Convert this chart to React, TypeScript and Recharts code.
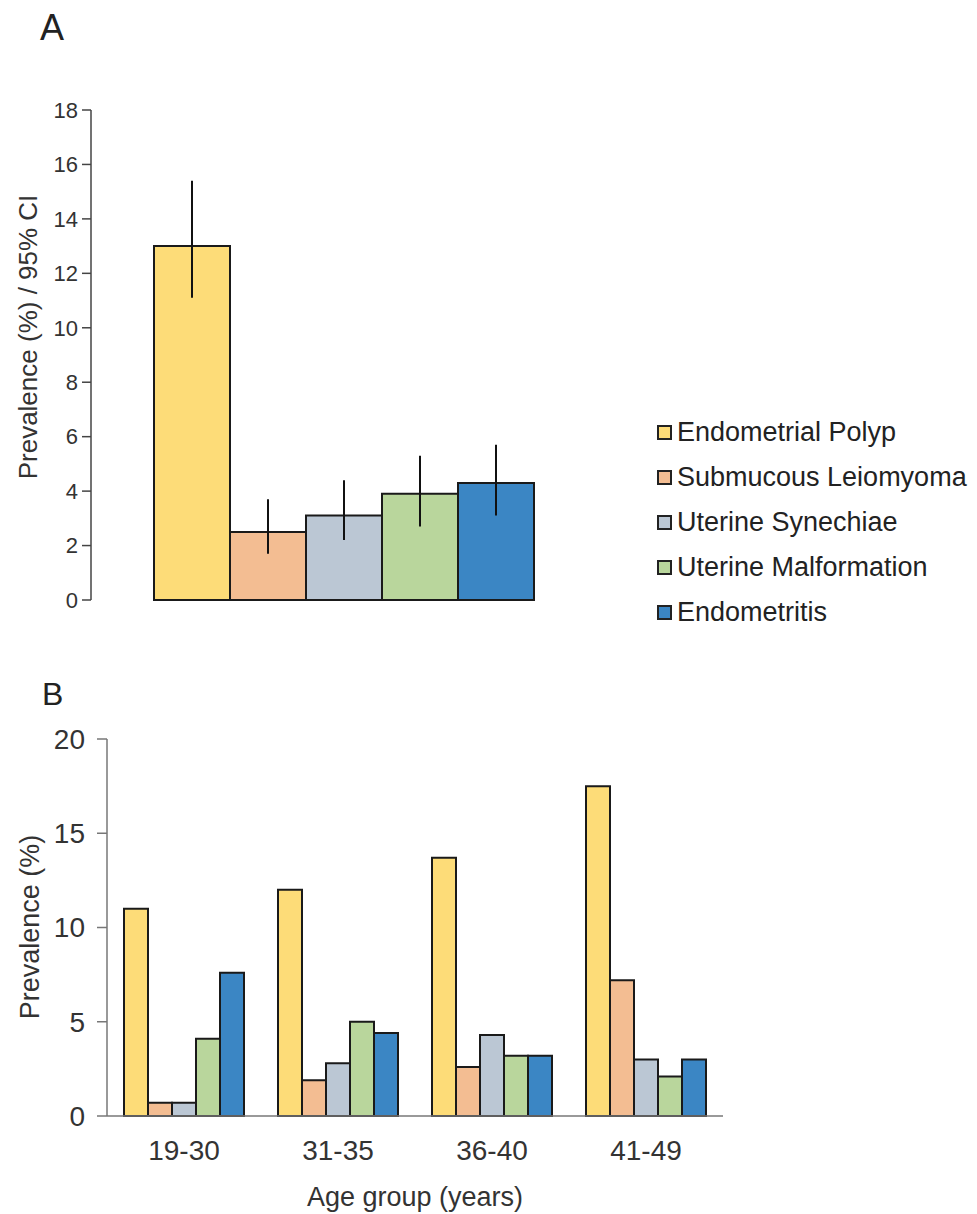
import React from 'react';
import { Bar, BarChart, ErrorBar, Legend, XAxis, YAxis } from 'recharts';

const FONT = '"Liberation Sans", Arial, Helvetica, sans-serif';

// conditions, shared by both panels
const conditions = [
  'Endometrial Polyp',
  'Submucous Leiomyoma',
  'Uterine Synechiae',
  'Uterine Malformation',
  'Endometritis',
];
const keys = ['polyp', 'myoma', 'synechiae', 'malformation', 'endometritis'];
const colors = ['#FDDC78', '#F3BD92', '#BBC7D4', '#B9D69C', '#3B86C4'];

// panel A: overall prevalence with 95% CI
const overallPrevalence = [13.0, 2.5, 3.1, 3.9, 4.3];
const ciLower = [11.1, 1.7, 2.2, 2.7, 3.1];
const ciUpper = [15.4, 3.7, 4.4, 5.3, 5.7];
const ticksA = [0, 2, 4, 6, 8, 10, 12, 14, 16, 18];

// panel B: prevalence by age group
const ageGroups = ['19-30', '31-35', '36-40', '41-49'];
const polypByAge = [11.0, 12.0, 13.7, 17.5];
const myomaByAge = [0.7, 1.9, 2.6, 7.2];
const synechiaeByAge = [0.7, 2.8, 4.3, 3.0];
const malformationByAge = [4.1, 5.0, 3.2, 2.1];
const endometritisByAge = [7.6, 4.4, 3.2, 3.0];
const ticksB = [0, 5, 10, 15, 20];

const overallRow: Record<string, any> = { name: 'all' };
keys.forEach((k, i) => {
  overallRow[k] = overallPrevalence[i];
  overallRow[k + 'Err'] = [overallPrevalence[i] - ciLower[i], ciUpper[i] - overallPrevalence[i]];
});
const dataA = [overallRow];

const byAge = [polypByAge, myomaByAge, synechiaeByAge, malformationByAge, endometritisByAge];
const dataB = ageGroups.map((age, j) => {
  const row: Record<string, any> = { age };
  keys.forEach((k, i) => {
    row[k] = byAge[i][j];
  });
  return row;
});

// axis title drawn at a fixed spot in the chart's svg
const title = (x: number, y: number, text: string, size: number, rotate = false) => () => (
  <text
    x={x}
    y={y}
    transform={rotate ? `rotate(-90 ${x} ${y})` : undefined}
    textAnchor="middle"
    dominantBaseline="central"
    fontSize={size}
    fill="#333"
    fontFamily={FONT}
  >
    {text}
  </text>
);

const renderLegend = () => (
  <div style={{ fontFamily: FONT }}>
    {conditions.map((c, i) => (
      <div key={c} style={{ display: 'flex', alignItems: 'center', height: 45 }}>
        <span
          style={{
            display: 'inline-block',
            width: 11,
            height: 11,
            border: '2px solid #222',
            background: colors[i],
            marginRight: 5,
          }}
        />
        <span style={{ fontSize: 27, color: '#222', whiteSpace: 'nowrap' }}>{c}</span>
      </div>
    ))}
  </div>
);

export default function App() {
  return (
    <div
      style={{
        position: 'absolute',
        left: 0,
        top: 0,
        width: 977,
        height: 1214,
        background: '#fff',
        fontFamily: FONT,
      }}
    >
      <div style={{ position: 'absolute', left: 40, top: 10, fontSize: 36, lineHeight: '36px', color: '#222' }}>A</div>
      <div style={{ position: 'absolute', left: 0, top: 0 }}>
        <BarChart
          width={977}
          height={640}
          data={dataA}
          margin={{ top: 110, right: 445, bottom: 40, left: 0 }}
          barGap={0}
          barCategoryGap={0}
        >
          <XAxis dataKey="name" hide padding={{ left: 63, right: 0 }} />
          <YAxis
            domain={[0, 18]}
            ticks={ticksA}
            width={91}
            tickSize={9}
            tickMargin={4}
            axisLine={{ stroke: '#444', strokeWidth: 1.5 }}
            tickLine={{ stroke: '#444', strokeWidth: 1.5 }}
            tick={{ fill: '#333', fontSize: 22 }}
            label={title(28, 337, 'Prevalence (%) / 95% CI', 26, true)}
          />
          {keys.map((k, i) => (
            <Bar
              key={k}
              dataKey={k}
              name={conditions[i]}
              fill={colors[i]}
              stroke="#1a1a1a"
              strokeWidth={2}
              isAnimationActive={false}
            >
              <ErrorBar dataKey={k + 'Err'} width={0} stroke="#111" strokeWidth={2} isAnimationActive={false} />
            </Bar>
          ))}
          <Legend
            layout="vertical"
            align="center"
            verticalAlign="middle"
            wrapperStyle={{ left: 657, top: 410, width: 320 }}
            content={renderLegend}
          />
        </BarChart>
      </div>

      <div style={{ position: 'absolute', left: 42, top: 678, fontSize: 32, lineHeight: '32px', color: '#222' }}>B</div>
      <div style={{ position: 'absolute', left: 0, top: 640 }}>
        <BarChart
          width={977}
          height={574}
          data={dataB}
          margin={{ top: 99, right: 254, bottom: 38, left: 0 }}
          barGap={0}
        >
          <XAxis
            dataKey="age"
            height={60}
            tickLine={false}
            tickSize={0}
            tickMargin={24}
            axisLine={{ stroke: '#777', strokeWidth: 1.5 }}
            tick={{ fill: '#333', fontSize: 28 }}
            label={title(415, 557, 'Age group (years)', 27)}
          />
          <YAxis
            domain={[0, 20]}
            ticks={ticksB}
            width={107}
            tickSize={10}
            tickMargin={12}
            axisLine={{ stroke: '#777', strokeWidth: 1.5 }}
            tickLine={{ stroke: '#777', strokeWidth: 1.5 }}
            tick={{ fill: '#333', fontSize: 28 }}
            label={title(30, 287, 'Prevalence (%)', 27, true)}
          />
          {keys.map((k, i) => (
            <Bar
              key={k}
              dataKey={k}
              name={conditions[i]}
              fill={colors[i]}
              stroke="#1a1a1a"
              strokeWidth={2}
              barSize={24}
              isAnimationActive={false}
            />
          ))}
        </BarChart>
      </div>
    </div>
  );
}
